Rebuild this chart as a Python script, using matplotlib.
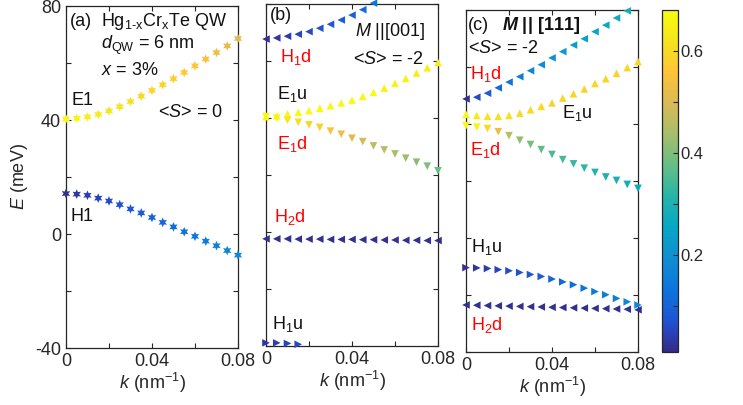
import numpy as np
import matplotlib as mpl
mpl.use('Agg')
import matplotlib.pyplot as plt
from matplotlib.colors import LinearSegmentedColormap
from matplotlib.ticker import MultipleLocator, FixedLocator

mpl.rcParams['font.family'] = 'Liberation Sans'
mpl.rcParams['font.size'] = 13
mpl.rcParams['mathtext.fontset'] = 'custom'
mpl.rcParams['mathtext.rm'] = 'Liberation Sans'
mpl.rcParams['mathtext.it'] = 'Liberation Sans:italic'
mpl.rcParams['mathtext.bf'] = 'Liberation Sans:bold:italic'
mpl.rcParams['axes.unicode_minus'] = False
mpl.rcParams['axes.linewidth'] = 0.9
mpl.rcParams['axes.edgecolor'] = '#262626'

# parula-like colormap (MATLAB default)
parula = LinearSegmentedColormap.from_list('parula', [
    (0.2081, 0.1663, 0.5292), (0.1253, 0.3242, 0.8303), (0.0498, 0.4586, 0.8641),
    (0.0641, 0.5570, 0.8240), (0.0228, 0.6535, 0.7768), (0.1453, 0.7098, 0.6646),
    (0.3953, 0.7459, 0.5244), (0.6473, 0.7456, 0.4188), (0.8507, 0.7299, 0.3360),
    (0.9990, 0.7653, 0.2164), (0.9589, 0.8949, 0.1132), (0.9763, 0.9831, 0.0538)])
VMIN, VMAX = 0.01, 0.68

k = [0.0, 0.005, 0.01, 0.015, 0.02, 0.025, 0.03, 0.035, 0.04,
     0.045, 0.05, 0.055, 0.06, 0.065, 0.07, 0.075, 0.08]

# (a) <S> = 0
a_E1 = [40.4, 40.6, 41.1, 42.0, 43.2, 44.7, 46.5, 48.4, 50.4,
        52.4, 54.5, 56.7, 59.0, 61.4, 63.7, 66.0, 68.6]
a_E1_c = [0.67, 0.66, 0.65, 0.64, 0.63, 0.62, 0.61, 0.60, 0.59,
          0.59, 0.58, 0.57, 0.56, 0.55, 0.53, 0.52, 0.50]
a_H1 = [14.2, 14.0, 13.6, 12.6, 11.6, 10.3, 8.8, 7.4, 5.8,
        4.1, 2.5, 0.8, -0.8, -2.5, -4.1, -5.8, -7.4]
a_H1_c = [0.02, 0.03, 0.04, 0.05, 0.06, 0.07, 0.08, 0.09, 0.10,
          0.11, 0.12, 0.13, 0.14, 0.15, 0.16, 0.17, 0.18]

# (b) M || [001]
b_H1d = [67.7, 68.1, 68.7, 69.4, 70.3, 71.5, 72.9, 74.4, 76.1, 78.0, 80.3]
b_H1d_c = [0.02, 0.03, 0.04, 0.05, 0.06, 0.07, 0.08, 0.09, 0.10, 0.12, 0.14]
b_E1u = [40.5, 40.8, 41.4, 42.0, 42.6, 43.4, 44.3, 45.3, 46.3,
         47.6, 49.0, 50.5, 52.2, 53.9, 55.8, 57.6, 59.5]
b_E1u_c = [0.67, 0.67, 0.67, 0.67, 0.67, 0.67, 0.67, 0.67, 0.67,
           0.67, 0.67, 0.66, 0.66, 0.66, 0.65, 0.65, 0.64]
b_E1d = [40.5, 39.9, 39.2, 38.5, 37.6, 36.7, 35.4, 34.3, 32.9,
         31.7, 30.2, 28.8, 27.4, 25.9, 24.5, 23.1, 21.5]
b_E1d_c = [0.67, 0.66, 0.63, 0.61, 0.59, 0.58, 0.55, 0.53, 0.51,
           0.49, 0.47, 0.46, 0.44, 0.43, 0.41, 0.40, 0.38]
b_H2d = [-2.4, -2.4, -2.4, -2.5, -2.5, -2.5, -2.6, -2.6, -2.6,
         -2.7, -2.7, -2.8, -2.8, -2.9, -2.9, -3.0, -3.0]
b_H2d_c = [0.02] * 17
b_H1u = [-38.9, -38.9, -39.1, -39.4]
b_H1u_c = [0.03, 0.04, 0.05, 0.06]

# (c) M || [111]
c_H1d = [48.8, 49.4, 50.8, 52.7, 54.7, 56.6, 58.7, 60.8, 63.2,
         65.4, 67.7, 69.9, 72.4, 74.7, 77.2, 79.7]
c_H1d_c = [0.02, 0.06, 0.09, 0.11, 0.13, 0.15, 0.17, 0.19, 0.20,
           0.22, 0.23, 0.24, 0.25, 0.26, 0.27, 0.28]
c_E1u = [43.4, 43.0, 42.7, 42.7, 43.0, 43.8, 45.0, 46.2, 47.4,
         49.1, 50.6, 52.3, 54.2, 55.9, 57.8, 59.8, 61.9]
c_E1u_c = [0.67, 0.64, 0.62, 0.61, 0.61, 0.60, 0.60, 0.60, 0.59,
           0.59, 0.59, 0.59, 0.59, 0.59, 0.59, 0.59, 0.59]
c_E1d = [39.4, 38.9, 38.4, 37.3, 35.9, 34.3, 32.8, 31.0, 29.3,
         27.5, 26.0, 24.5, 23.0, 21.4, 20.2, 18.8, 17.4]
c_E1d_c = [0.67, 0.66, 0.60, 0.53, 0.46, 0.42, 0.39, 0.37, 0.35,
           0.34, 0.33, 0.32, 0.31, 0.30, 0.29, 0.28, 0.27]
c_H1u = [-10.4, -10.5, -10.7, -11.1, -11.5, -12.1, -12.8, -13.5, -14.4,
         -15.4, -16.4, -17.6, -18.8, -19.9, -21.2, -22.4, -23.5]
c_H1u_c = [0.02, 0.03, 0.04, 0.05, 0.06, 0.07, 0.08, 0.09, 0.10,
           0.11, 0.12, 0.13, 0.14, 0.15, 0.16, 0.17, 0.18]
c_H2d = [-23.5, -23.6, -23.7, -23.8, -23.9, -24.0, -24.1, -24.2, -24.3,
         -24.4, -24.5, -24.6, -24.7, -24.8, -24.9, -25.0, -25.2]
c_H2d_c = [0.02] * 17

STAR = (6, 1, 0)
RED = '#ff0000'
TXT = '#111111'


def pts(ax, y, c, marker, s=30):
    return ax.scatter(k[:len(y)], y, c=c, cmap=parula, vmin=VMIN, vmax=VMAX,
                      marker=marker, s=s, linewidths=0, clip_on=False, zorder=3)


fig = plt.figure(figsize=(7.43, 4.05), dpi=100)
ax_a = fig.add_axes([0.0888, 0.1407, 0.2315, 0.8444])
ax_b = fig.add_axes([0.3580, 0.1457, 0.2315, 0.8444])
ax_c = fig.add_axes([0.6272, 0.1309, 0.2315, 0.8444])
cax = fig.add_axes([0.8910, 0.1309, 0.0215, 0.8444])

for ax in (ax_a, ax_b, ax_c):
    ax.set_xlim(0, 0.08)
    ax.set_ylim(-40, 80)
    ax.xaxis.set_major_locator(FixedLocator([0, 0.04, 0.08]))
    ax.xaxis.set_minor_locator(FixedLocator([0.02, 0.06]))
    ax.set_xticklabels(['0', '0.04', '0.08'])
    ax.yaxis.set_major_locator(MultipleLocator(40))
    ax.yaxis.set_minor_locator(MultipleLocator(20))
    ax.tick_params(which='both', direction='in', top=True, right=True,
                   length=3.5, width=0.8, color='#262626', labelcolor='#262626')
    ax.set_xlabel('$k$ (nm$^{-1}$)', labelpad=1, color='#262626')
ax_b.set_yticklabels([])
ax_c.set_yticklabels([])
ax_a.set_ylabel('$E$ (meV)', labelpad=4, color='#262626')

# (a)
pts(ax_a, a_E1, a_E1_c, STAR, 48)
pts(ax_a, a_H1, a_H1_c, STAR, 48)
ax_a.text(0.0019, 74.5, '(a)', va='center', color=TXT)
ax_a.text(0.0165, 74.5, 'Hg$_\\mathrm{1\u2010x}$Cr$_\\mathrm{x}$Te QW', va='center', color=TXT)
ax_a.text(0.0165, 66.3, '$d_\\mathrm{QW}$ = 6 nm', va='center', color=TXT)
ax_a.text(0.0165, 57.5, '$x$ = 3%', va='center', color=TXT)
ax_a.text(0.0028, 47.0, 'E1', va='center', color=TXT)
ax_a.text(0.0428, 42.5, '<$S$> = 0', va='center', color=TXT)
ax_a.text(0.0019, 6.1, 'H1', va='center', color=TXT)

# (b)
pts(ax_b, b_H1d, b_H1d_c, '<')
pts(ax_b, b_E1u, b_E1u_c, '^')
pts(ax_b, b_E1d, b_E1d_c, 'v')
pts(ax_b, b_H2d, b_H2d_c, '<')
pts(ax_b, b_H1u, b_H1u_c, '>')
ax_b.text(0.0019, 75.8, '(b)', va='center', color=TXT)
ax_b.text(0.0414, 70.2, '$M$ ||[001]', va='center', color=TXT)
ax_b.text(0.0405, 60.7, '<$S$> = -2', va='center', color=TXT)
ax_b.text(0.0065, 61.4, 'H$_1$d', va='center', color=RED)
ax_b.text(0.0051, 48.4, 'E$_1$u', va='center', color=TXT)
ax_b.text(0.0051, 30.9, 'E$_1$d', va='center', color=RED)
ax_b.text(0.0037, 5.2, 'H$_2$d', va='center', color=RED)
ax_b.text(0.0028, -32.3, 'H$_1$u', va='center', color=TXT)

# (c)
pts(ax_c, c_H1d, c_H1d_c, '<')
pts(ax_c, c_E1u, c_E1u_c, '^')
pts(ax_c, c_E1d, c_E1d_c, 'v')
pts(ax_c, c_H1u, c_H1u_c, '>')
sc = pts(ax_c, c_H2d, c_H2d_c, '<')
ax_c.text(0.0010, 74.5, '(c)', va='center', color=TXT)
ax_c.text(0.0167, 74.5, '$\\mathbf{M}$ || [111]', va='center', color=TXT,
          fontweight='bold')
ax_c.text(0.0010, 66.4, '<$S$> = -2', va='center', color=TXT)
ax_c.text(0.0019, 57.7, 'H$_1$d', va='center', color=RED)
ax_c.text(0.0447, 44.0, 'E$_1$u', va='center', color=TXT)
ax_c.text(0.0019, 30.8, 'E$_1$d', va='center', color=RED)
ax_c.text(0.0023, -3.1, 'H$_1$u', va='center', color=TXT)
ax_c.text(0.0023, -30.4, 'H$_2$d', va='center', color=RED)

cb = fig.colorbar(sc, cax=cax, ticks=[0.2, 0.4, 0.6])
cb.ax.yaxis.set_minor_locator(FixedLocator([0.1, 0.3, 0.5]))
cb.ax.tick_params(which='both', direction='in', length=3.5, width=0.8,
                  color='#262626', labelcolor='#262626', labelsize=12, pad=2)
cb.outline.set_linewidth(0.9)
cb.outline.set_edgecolor('#262626')

fig.savefig('out.png', dpi=100)
